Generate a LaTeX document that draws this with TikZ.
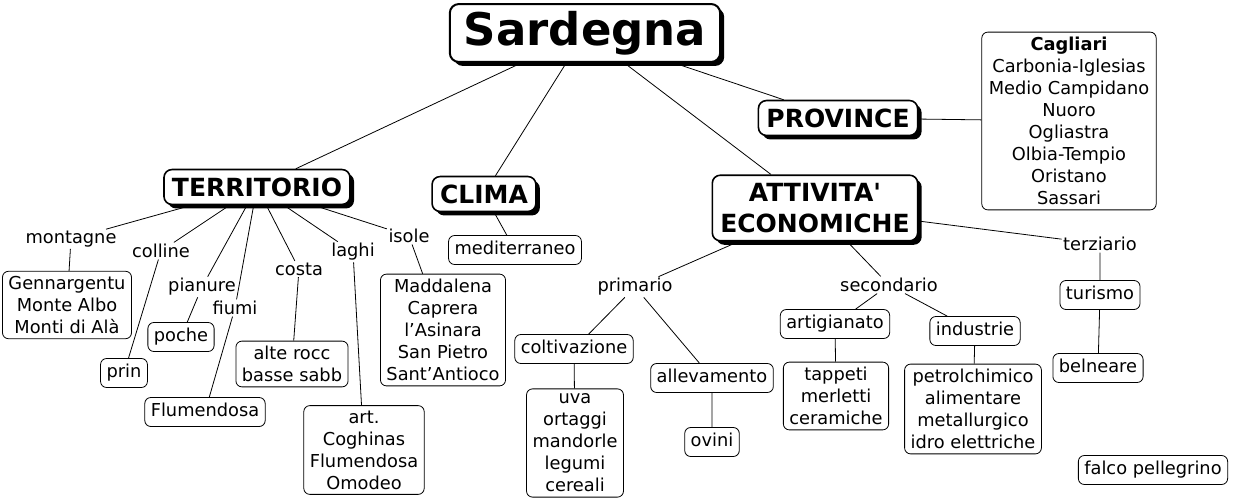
\documentclass[tikz,border=0pt]{standalone}
\usepackage{fontspec}
\setmainfont{DejaVu Sans}
\usepackage{tikz}
\usetikzlibrary{shadows}

\begin{document}
\begin{tikzpicture}[x=1pt, y=-1pt,
    conn/.style={line width=0.8pt},
    mainbox/.style={draw, line width=2pt, rounded corners=9pt, fill=white,
      font=\bfseries\fontsize{45}{50}\selectfont, inner xsep=14pt, inner ysep=7pt,
      drop shadow={shadow xshift=4pt, shadow yshift=-4pt, fill=black, opacity=1}},
    topic/.style={draw, line width=1.6pt, rounded corners=8pt, fill=white, align=center,
      font=\bfseries\fontsize{25}{31}\selectfont, inner xsep=8pt, inner ysep=8pt,
      drop shadow={shadow xshift=4pt, shadow yshift=-4pt, fill=black, opacity=1}},
    cbox/.style={draw, line width=0.8pt, rounded corners=6pt, fill=white, align=center,
      font=\fontsize{17.8}{22}\selectfont, inner xsep=6pt, inner ysep=5pt},
    single/.style={text height=13.5pt, text depth=4.5pt, inner ysep=5.5pt},
    lbl/.style={font=\fontsize{17.8}{22}\selectfont, inner sep=1.5pt}]
    \useasboundingbox (0,0) rectangle (1234,503);

    % Main topics
    \node[mainbox] (sard) at (585,33) {Sardegna};
    \node[topic] (terr) at (257,187) {TERRITORIO};
    \node[topic] (clima) at (484,194) {CLIMA};
    \node[topic] (att) at (815,208) {ATTIVITA\textquotesingle\\ECONOMICHE};
    \node[topic] (prov) at (838,118) {PROVINCE};
    \node[cbox, inner xsep=7pt] (provlist) at (1069,121)
      {\textbf{Cagliari}\\Carbonia-Iglesias\\Medio Campidano\\Nuoro\\Ogliastra\\Olbia-Tempio\\Oristano\\Sassari};

    % Territorio
    \node[lbl] (montagne) at (71,239) {montagne};
    \node[lbl] (colline) at (161,251) {colline};
    \node[lbl] (pianure) at (202,287) {pianure};
    \node[lbl] (fiumi) at (235,308) {fiumi};
    \node[lbl] (costa) at (299,269) {costa};
    \node[lbl] (laghi) at (353,252) {laghi};
    \node[lbl] (isole) at (409,236) {isole};
    \node[cbox] (monti) at (67,305) {Gennargentu\\Monte Albo\\Monti di Alà};
    \node[cbox, single] (prin) at (124,373) {prin};
    \node[cbox, single] (poche) at (181,337) {poche};
    \node[cbox, single] (flum) at (205,412) {Flumendosa};
    \node[cbox] (rocce) at (292,364) {alte rocc\\basse sabb};
    \node[cbox] (laghilist) at (364,450) {art.\\Coghinas\\Flumendosa\\Omodeo};
    \node[cbox] (isolelist) at (443,330) {Maddalena\\Caprera\\l'Asinara\\San Pietro\\Sant'Antioco};

    % Clima
    \node[cbox, single] (medit) at (515,250) {mediterraneo};

    % Attivita economiche
    \node[lbl] (prim) at (635,287) {primario};
    \node[lbl] (sec) at (889,285) {secondario};
    \node[lbl] (terz) at (1100,244) {terziario};
    \node[cbox, single] (colt) at (574,349) {coltivazione};
    \node[cbox] (coltlist) at (575,443) {uva\\ortaggi\\mandorle\\legumi\\cereali};
    \node[cbox, single] (allev) at (712,378) {allevamento};
    \node[cbox, single] (ovini) at (712,442) {ovini};
    \node[cbox, single] (artig) at (835,324) {artigianato};
    \node[cbox] (artiglist) at (836,396) {tappeti\\merletti\\ceramiche};
    \node[cbox, single] (ind) at (975,331) {industrie};
    \node[cbox] (indlist) at (973,409) {petrolchimico\\alimentare\\metallurgico\\idro elettriche};
    \node[cbox, single] (tur) at (1100,295) {turismo};
    \node[cbox, single] (beln) at (1098,368) {belneare};
    \node[cbox, single] (falco) at (1153,470) {falco pellegrino};

    % Links
    \draw[conn] (sard) -- (terr);
    \draw[conn] (sard) -- (clima);
    \draw[conn] (sard) -- (att);
    \draw[conn] (sard) -- (prov);
    \draw[conn] (prov) -- (provlist);
    \draw[conn] (terr) -- (montagne) -- (monti);
    \draw[conn] (terr) -- (colline) -- (prin);
    \draw[conn] (terr) -- (pianure) -- (poche);
    \draw[conn] (terr) -- (fiumi) -- (flum);
    \draw[conn] (terr) -- (costa) -- (rocce);
    \draw[conn] (terr) -- (laghi) -- (laghilist);
    \draw[conn] (terr) -- (isole) -- (isolelist);
    \draw[conn] (clima) -- (medit);
    \draw[conn] (att) -- (prim);
    \draw[conn] (att) -- (sec);
    \draw[conn] (att) -- (terz) -- (tur) -- (beln);
    \draw[conn] (prim) -- (colt) -- (coltlist);
    \draw[conn] (prim) -- (allev) -- (ovini);
    \draw[conn] (sec) -- (artig) -- (artiglist);
    \draw[conn] (sec) -- (ind) -- (indlist);
  \end{tikzpicture}
\end{document}
